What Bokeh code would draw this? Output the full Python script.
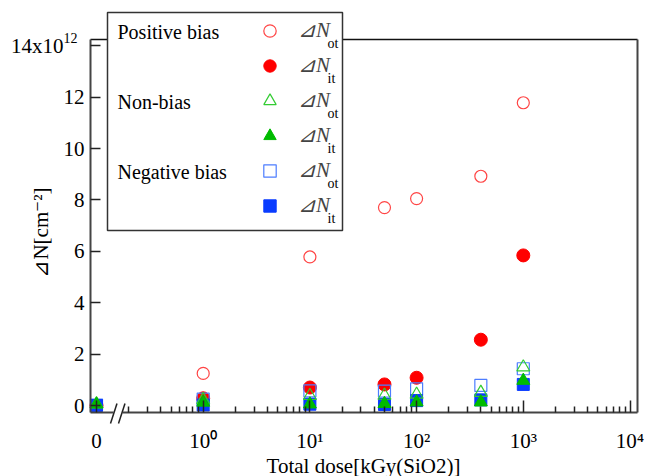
import math
from bokeh.plotting import figure
from bokeh.models import (Range1d, FixedTicker, LogAxis, LinearAxis, Legend, LegendItem,
                          Label, BoxAnnotation, Arrow, ColumnDataSource)
from bokeh.embed import file_html
from bokeh.resources import INLINE

# Total dose, kGy(SiO2); 0 is shown left of the axis break
DOSE = [0, 1, 10, 50, 100, 400, 1000]
# Trapped-charge densities, units of 1e12 cm^-2
POS_NOT = [0.0, 1.25, 5.78, 7.70, 8.05, 8.92, 11.78]
POS_NIT = [0.0, 0.28, 0.70, 0.82, 1.08, 2.56, 5.84]
NON_NOT = [0.05, 0.22, 0.38, 0.39, 0.43, 0.50, 1.49]
NON_NIT = [0.05, 0.12, 0.05, 0.07, 0.13, 0.13, 0.97]
NEG_NOT = [0.02, 0.25, 0.57, 0.56, 0.65, 0.78, 1.43]
NEG_NIT = [0.0, 0.02, 0.05, 0.04, 0.19, 0.22, 0.82]

X_TICKS = [0, 1, 10, 100, 1000, 10000]
X_LABELS = ["0", "10\u2070", "10\u00b9", "10\u00b2", "10\u00b3", "10\u2074"]
Y_TICKS = [0, 2, 4, 6, 8, 10, 12, 14]
# top label gets its exponent drawn separately (two figure spaces keep room for it)
Y_LABELS = ["0", "2", "4", "6", "8", "10", "12", "14x10\u2007\u2007"]
Y_EXPONENT = "12"

ZERO_AT = 0.1          # where dose 0 sits on the log axis (left of the break)
FONT = "Liberation Serif"

# Page layout in pixels. The plot frame spans the whole canvas so that the
# legend, titles and axis-break marks can sit anywhere; the axes are pinned
# at fixed locations and bounded to the drawn box.
W, H = 655, 476
DEC_PX = 106.7         # pixels per decade
X1_PX = 202.7          # page x of dose = 1
UNIT_PX = 25.7         # pixels per 1e12 cm^-2
Y0_PX = 405.0          # page y of value 0
BOX_L, BOX_R, BOX_T, BOX_B = 90, 637, 38.5, 412


def x_at(px):
    return 10 ** ((px - X1_PX) / DEC_PX)


def y_at(py):
    return (Y0_PX - py) / UNIT_PX


def sx(px):
    return px


def sy(py):
    return H - py


def xpos(d):
    return d if d > 0 else ZERO_AT


X_LO, X_HI = x_at(BOX_L), x_at(BOX_R)
Y_LO, Y_HI = y_at(BOX_B), y_at(BOX_T)

xs = [xpos(d) for d in DOSE]

p = figure(width=W, height=H, x_axis_type="log",
           x_range=Range1d(x_at(0), x_at(W)), y_range=Range1d(y_at(H), y_at(0)),
           output_backend="svg", toolbar_location=None,
           min_border_left=0, min_border_right=0, min_border_top=0, min_border_bottom=0)
p.grid.visible = False
p.outline_line_color = None
p.background_fill_color = "white"
p.border_fill_color = "white"

# bottom axis
xa = p.xaxis[0]
minor = [k * 10 ** e for e in range(-1, 4) for k in range(2, 10)]
xa.fixed_location = Y_LO
xa.bounds = (X_LO, X_HI)
xa.ticker = FixedTicker(ticks=[xpos(t) for t in X_TICKS], minor_ticks=minor)
xa.major_label_overrides = {xpos(t): lab for t, lab in zip(X_TICKS, X_LABELS)}
xa.major_tick_in = 12
xa.major_tick_out = 0
xa.minor_tick_in = 6
xa.minor_tick_out = 0
xa.axis_line_color = "#444444"
xa.axis_line_width = 2
xa.major_tick_line_color = "#222222"
xa.minor_tick_line_color = "#222222"
xa.major_tick_line_width = 1.5
xa.minor_tick_line_width = 1.5
xa.major_label_text_font = FONT
xa.major_label_text_font_size = "21px"
xa.major_label_text_color = "black"
xa.major_label_standoff = 16

# left axis
ya = p.yaxis[0]
ya.fixed_location = X_LO
ya.bounds = (Y_LO, Y_HI)
ya.ticker = FixedTicker(ticks=Y_TICKS, minor_ticks=[])
ya.major_label_overrides = {t: lab for t, lab in zip(Y_TICKS, Y_LABELS)}
ya.major_tick_in = 10
ya.major_tick_out = 0
ya.minor_tick_line_color = None
ya.axis_line_color = "#444444"
ya.axis_line_width = 2
ya.major_tick_line_color = "#222222"
ya.major_tick_line_width = 1.5
ya.major_label_text_font = FONT
ya.major_label_text_font_size = "21px"
ya.major_label_text_color = "black"
ya.major_label_standoff = 6

p.add_layout(Label(x=sx(63), y=sy(37), x_units="screen", y_units="screen",
                   text=Y_EXPONENT, text_align="left", text_baseline="middle",
                   text_font=FONT, text_font_size="14px", text_color="black"))

# plain top and right box lines
top = LogAxis(ticker=FixedTicker(ticks=[]), fixed_location=Y_HI, bounds=(X_LO, X_HI),
              axis_line_color="#111111", axis_line_width=1.5,
              major_tick_line_color=None, minor_tick_line_color=None,
              major_label_text_font_size="0px")
right = LinearAxis(ticker=FixedTicker(ticks=[]), fixed_location=X_HI, bounds=(Y_LO, Y_HI),
                   axis_line_color="#444444", axis_line_width=2,
                   major_tick_line_color=None, minor_tick_line_color=None,
                   major_label_text_font_size="0px")
p.add_layout(top, "above")
p.add_layout(right, "right")

src = ColumnDataSource(dict(x=xs, pos_not=POS_NOT, pos_nit=POS_NIT, non_not=NON_NOT,
                            non_nit=NON_NIT, neg_not=NEG_NOT, neg_nit=NEG_NIT))

r_pos_not = p.scatter("x", "pos_not", source=src, marker="circle", size=12,
                      fill_color=None, line_color="#ff4545", line_width=1.2)
r_pos_nit = p.scatter("x", "pos_nit", source=src, marker="circle", size=13,
                      fill_color="#ff0000", line_color="#ff0000")
r_neg_not = p.scatter("x", "neg_not", source=src, marker="square", size=12,
                      fill_color=None, line_color="#4d7dff", line_width=1.2)
r_neg_nit = p.scatter("x", "neg_nit", source=src, marker="square", size=12,
                      fill_color="#0a3cff", line_color="#0a3cff")
r_non_not = p.scatter("x", "non_not", source=src, marker="triangle", size=13,
                      fill_color=None, line_color="#33cc33", line_width=1.2)
r_non_nit = p.scatter("x", "non_nit", source=src, marker="triangle", size=13,
                      fill_color="#00bb00", line_color="#00bb00")

# axis break on the bottom axis
p.add_layout(BoxAnnotation(left=sx(113), right=sx(122), bottom=sy(416), top=sy(408),
                           left_units="screen", right_units="screen",
                           bottom_units="screen", top_units="screen",
                           fill_color="white", fill_alpha=1, line_color=None))
for x0, x1 in [(110, 116.5), (118, 124.5)]:
    p.add_layout(Arrow(x_start=sx(x0), y_start=sy(423), x_end=sx(x1), y_end=sy(403),
                       start_units="screen", end_units="screen", end=None,
                       line_color="#222222", line_width=1.5))

# axis titles
p.add_layout(Label(x=sx(40), y=sy(232), x_units="screen", y_units="screen",
                   text="\u22bfN[cm\u207b\u00b2]", angle=math.pi / 2,
                   text_align="center", text_baseline="middle",
                   text_font=FONT, text_font_size="21px", text_color="black"))
p.add_layout(Label(x=sx(363), y=sy(465), x_units="screen", y_units="screen",
                   text="Total dose[kGy(SiO2)]",
                   text_align="center", text_baseline="middle",
                   text_font=FONT, text_font_size="21px", text_color="black"))

# legend frame
p.add_layout(BoxAnnotation(left=sx(107), right=sx(342), top=sy(12), bottom=sy(230),
                           left_units="screen", right_units="screen",
                           bottom_units="screen", top_units="screen",
                           fill_color="white", fill_alpha=1,
                           line_color="#333333", line_alpha=1, line_width=1.5))

legend = Legend(items=[
    LegendItem(label="\u22bfN", renderers=[r_pos_not]),
    LegendItem(label="\u22bfN", renderers=[r_pos_nit]),
    LegendItem(label="\u22bfN", renderers=[r_non_not]),
    LegendItem(label="\u22bfN", renderers=[r_non_nit]),
    LegendItem(label="\u22bfN", renderers=[r_neg_not]),
    LegendItem(label="\u22bfN", renderers=[r_neg_nit]),
], location=(254, sy(221)), orientation="vertical", padding=0, margin=0, spacing=4,
    glyph_width=31, glyph_height=31, label_height=31, label_standoff=13,
    label_text_font=FONT, label_text_font_style="italic", label_text_font_size="21px",
    background_fill_alpha=0, border_line_alpha=0)
p.add_layout(legend, "center")

rows = [31, 66, 101, 136, 171, 206]
for name, py in [("Positive bias", rows[0]), ("Non-bias", rows[2]), ("Negative bias", rows[4])]:
    p.add_layout(Label(x=sx(117), y=sy(py), x_units="screen", y_units="screen",
                       text=name, text_align="left", text_baseline="middle",
                       text_font=FONT, text_font_size="20px", text_color="black"))
for i, py in enumerate(rows):
    p.add_layout(Label(x=sx(327), y=sy(py + 12), x_units="screen", y_units="screen",
                       text="ot" if i % 2 == 0 else "it", text_align="left",
                       text_baseline="middle", text_font=FONT, text_font_size="14px",
                       text_color="black"))

open("out.html", "w").write(file_html(p, INLINE))
